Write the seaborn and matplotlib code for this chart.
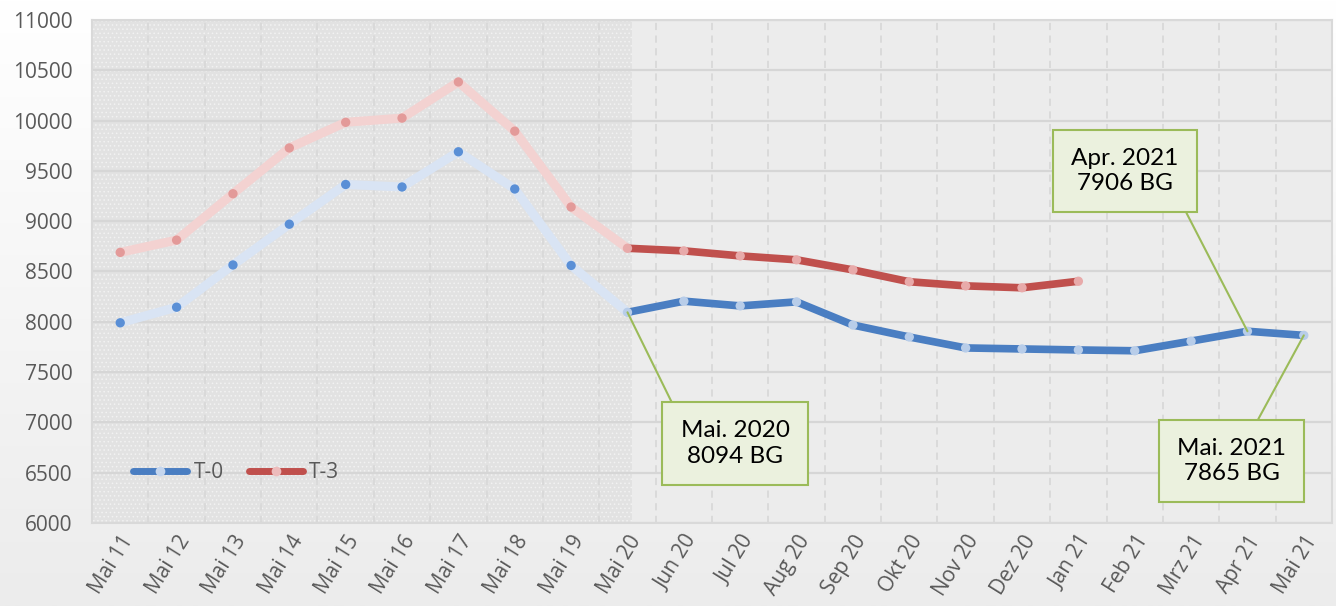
import numpy as np
import pandas as pd
import matplotlib
matplotlib.use("Agg")
import matplotlib.pyplot as plt
import seaborn as sns
from matplotlib.lines import Line2D
from matplotlib.colors import LinearSegmentedColormap

months = ["Mai 11", "Mai 12", "Mai 13", "Mai 14", "Mai 15", "Mai 16", "Mai 17",
          "Mai 18", "Mai 19", "Mai 20", "Jun 20", "Jul 20", "Aug 20", "Sep 20",
          "Okt 20", "Nov 20", "Dez 20", "Jan 21", "Feb 21", "Mrz 21", "Apr 21", "Mai 21"]
t0 = [7990, 8145, 8565, 8970, 9365, 9340, 9690, 9320, 8560, 8094,
      8205, 8158, 8198, 7968, 7849, 7740, 7730, 7720, 7712, 7808, 7906, 7865]
t3 = [8690, 8812, 9273, 9728, 9983, 10025, 10384, 9895, 9141, 8731,
      8705, 8655, 8616, 8516, 8398, 8357, 8338, 8403]
yticks = list(range(6000, 11001, 500))
hist_end = 9  # index of "Mai 20"

sns.set_theme(style="white")
plt.rcParams["font.family"] = ["Open Sans", "DejaVu Sans"]
plt.rcParams["hatch.linewidth"] = 0.6

n = len(months)
x = np.arange(n)
df = pd.DataFrame({"x": x, "T-0": t0, "T-3": t3 + [np.nan] * (n - len(t3))})
long = df.melt(id_vars="x", var_name="series", value_name="value").dropna()
hist = long[long["x"] <= hist_end]
cur = long[long["x"] >= hist_end]

fig = plt.figure(figsize=(13.36, 6.06), dpi=100)
bg = fig.add_axes([0, 0, 1, 1], zorder=-10)
grad = np.linspace(0, 1, 256).reshape(-1, 1)
bg.imshow(grad, aspect="auto", origin="upper", extent=[0, 1, 0, 1],
          cmap=LinearSegmentedColormap.from_list("g", ["#ffffff", "#ececec"]))
bg.axis("off")

ax = fig.add_axes([0.0689, 0.137, 0.9281, 0.830])
ax.set_facecolor("#ececec")
ax.set_axisbelow(True)
ax.axvspan(-0.5, hist_end + 0.08, facecolor="#e2e2e2", edgecolor="#f2f2f2",
           hatch="....", lw=0, zorder=0)

blue, red = "#4a7ec2", "#c0504d"
# historical (faded) part
sns.lineplot(data=hist, x="x", y="value", hue="series", estimator=None,
             palette={"T-0": "#d9e4f4", "T-3": "#f3d2d1"}, lw=6.5,
             legend=False, ax=ax, zorder=3)
sns.scatterplot(data=hist[hist["x"] < hist_end], x="x", y="value", hue="series",
                palette={"T-0": "#5a8fd6", "T-3": "#e39a99"}, s=45, linewidth=0,
                legend=False, ax=ax, zorder=4)
# current part
sns.lineplot(data=cur, x="x", y="value", hue="series", estimator=None,
             palette={"T-0": blue, "T-3": red}, lw=5.5,
             legend=False, ax=ax, zorder=5)
sns.scatterplot(data=cur, x="x", y="value", hue="series",
                palette={"T-0": "#b8cde9", "T-3": "#e8aaaa"}, s=45, linewidth=0,
                legend=False, ax=ax, zorder=6)

ax.set_xlim(-0.5, n - 0.5)
ax.set_ylim(6000, 11000)
ax.set_yticks(yticks)
ax.set_yticklabels([str(v) for v in yticks])
ax.set_xticks(x)
ax.set_xticklabels(months, rotation=58, ha="right", rotation_mode="anchor")
ax.set_xticks(np.arange(-0.5, n, 1), minor=True)
ax.tick_params(axis="y", length=0, pad=14, labelsize=15, labelcolor="#595959")
ax.tick_params(axis="x", which="both", length=0, pad=6, labelsize=15, labelcolor="#595959")
ax.grid(which="major", axis="y", color="#d6d6d6", lw=1.6)
ax.grid(which="minor", axis="x", color="#d9d9d9", lw=1.3, ls=(0, (4, 3)))
ax.set_xlabel("")
ax.set_ylabel("")
for s in ax.spines.values():
    s.set_color("#d9d9d9")
    s.set_linewidth(1.5)

handles = [Line2D([0], [0], color=blue, lw=5, marker="o", markersize=7,
                  markerfacecolor="#c5d6ee", markeredgewidth=0),
           Line2D([0], [0], color=red, lw=5, marker="o", markersize=7,
                  markerfacecolor="#edbcbc", markeredgewidth=0)]
ax.legend(handles, ["T-0", "T-3"], loc="center left", bbox_to_anchor=(0.018, 0.1),
          ncol=2, frameon=False, handlelength=2.6, handletextpad=0.3,
          columnspacing=1.2, labelcolor="#595959", prop={"size": 15})

box = dict(boxstyle="square,pad=0.75", fc="#ebf1de", ec="#9bbb59", lw=1.5)
ann = [(9, t0[9], "Mai. 2020\n8094 BG", (10.91, 6790), (0.0, 1.0)),
       (20, t0[20], "Apr. 2021\n7906 BG", (17.83, 9500), (0.98, 0.0)),
       (21, t0[21], "Mai. 2021\n7865 BG", (19.72, 6615), (0.65, 1.0))]
for xi, yi, txt, pos, rp in ann:
    ax.annotate(txt, xy=(xi, yi), xytext=pos, ha="center", va="center",
                fontsize=17.5, color="black", family=["Lato", "DejaVu Sans"],
                linespacing=1.25, bbox=box, zorder=8,
                arrowprops=dict(arrowstyle="-", color="#9bbb59", lw=1.5,
                                relpos=rp, shrinkA=0, shrinkB=0))

fig.savefig("out.png", dpi=100)
